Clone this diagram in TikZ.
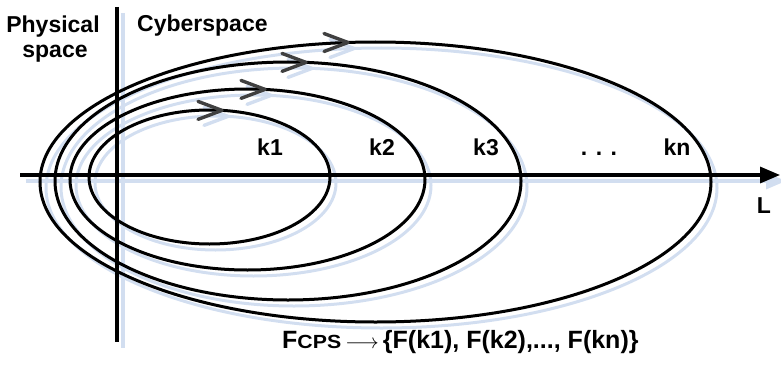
\documentclass[tikz,border=0pt]{standalone}
\usepackage{fontspec}
\setmainfont{Liberation Sans}
\usetikzlibrary{arrows.meta}
\definecolor{shadowblue}{RGB}{210,222,240}
\definecolor{chevgray}{RGB}{64,64,64}
\newcommand\cpsshapes[2]{%
  \draw[axisline,#1,-{Triangle[length=20pt,width=16pt]}] (Lstart) -- (Lend);
  \draw[axisline,#1] (Vtop) -- (Vbot);
  \draw[ell,#1] (c1) ellipse [x radius=120.5pt, y radius=67pt];
  \draw[ell,#1] (c2) ellipse [x radius=177.5pt, y radius=90.5pt];
  \draw[ell,#1] (c3) ellipse [x radius=233pt, y radius=119pt];
  \draw[ell,#1] (cn) ellipse [x radius=335.5pt, y radius=140pt];
  \foreach \t in {a1,a2,a3,an}{
    \draw[chev,#2] (\t) ++(-24,-9) -- (\t) -- ++(-24,9);
  }%
}
\begin{document}
\begin{tikzpicture}[x=1pt,y=-1pt,
  axisline/.style={line width=3.2pt},
  ell/.style={line width=3pt},
  chev/.style={line width=3.4pt,line cap=round,line join=round},
  lbl/.style={font=\fontsize{23}{25}\selectfont\bfseries,inner sep=0pt,anchor=base},
  formula/.style={font=\fontsize{25}{27}\selectfont\bfseries,inner sep=0pt,anchor=base west}]
\useasboundingbox (0,0) rectangle (781,369);
% coordinates
\coordinate (Lstart) at (20,175);
\coordinate (Lend) at (780,175);
\coordinate (Vtop) at (117,7);
\coordinate (Vbot) at (117,342);
\coordinate (c1) at (209.5,177);
\coordinate (c2) at (247.5,179.5);
\coordinate (c3) at (288,181);
\coordinate (cn) at (375.5,182);
\coordinate (a1) at (222,110.4);
\coordinate (a2) at (265,89.4);
\coordinate (a3) at (306,62.4);
\coordinate (an) at (348,42.5);
% shadow (offset right and down)
\begin{scope}[transform canvas={xshift=6pt,yshift=-6pt}]
  \cpsshapes{shadowblue}{shadowblue}
\end{scope}
% main
\cpsshapes{black}{chevgray}
% labels
\node[lbl] (phys) at (53,33) {Physical};
\node[lbl] (space) at (55,58) {space};
\node[lbl,anchor=base west] (cyber) at (137,32) {Cyberspace};
\node[lbl] (k1) at (270,155) {k1};
\node[lbl] (k2) at (382,155) {k2};
\node[lbl] (k3) at (486,155) {k3};
\node[lbl] (dots) at (599,155) {. . .};
\node[lbl] (kn) at (677,155) {kn};
\node[lbl] (L) at (764,213) {L};
\node[formula] (F) at (282,348) {F{\fontsize{19}{20}\selectfont\scalebox{1.12}[1]{CPS}}\,{\fontsize{20}{20}\selectfont$\longrightarrow$}\,\{F(k1), F(k2),..., F(kn)\}};
\end{tikzpicture}
\end{document}
